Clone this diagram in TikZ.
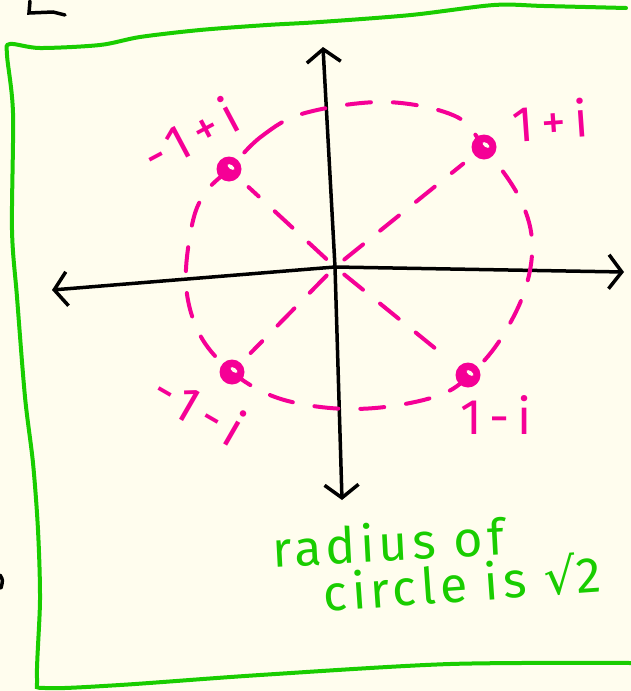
\documentclass[tikz,border=0pt]{standalone}
\usepackage{fontspec}
\setmainfont{Fira Sans}
\newfontfamily\notefont[LetterSpace=9]{Fira Sans}
\newfontfamily\labfont[LetterSpace=16]{Fira Sans}
\newfontfamily\rootfont{DejaVu Sans}
\usepackage{tikz}
\usetikzlibrary{arrows.meta}
\definecolor{paper}{RGB}{255,253,238}
\definecolor{pinkpen}{RGB}{245,0,150}
\definecolor{greenpen}{RGB}{25,205,0}

\begin{document}
\begin{tikzpicture}[x=1pt,y=-1pt,
  ax/.style={line width=3.5pt,line cap=round,{Straight Barb[length=13pt,width=34pt]}-{Straight Barb[length=13pt,width=34pt]}},
  pk/.style={draw=pinkpen,line width=4pt,dash pattern=on 24pt off 22pt,line cap=round},
  pt/.style={circle,fill=pinkpen,minimum size=25pt,inner sep=0pt},
  lab/.style={text=pinkpen,inner sep=0pt,font=\labfont\fontsize{50}{54}\selectfont},
  note/.style={text=greenpen,font=\notefont\fontsize{50}{56}\selectfont}]
\fill[paper](0,0)rectangle(631,691);
\useasboundingbox(0,0)rectangle(631,691);
% green frame
\draw[greenpen,line width=4pt,line cap=round]plot[smooth,tension=0.5]coordinates{(626,8)(544,6)(494,5)(411,15)(320,22)(267,25)(200,30)(140,37)(100,45)(40,48)(10,44)(7,55)(13,113)(12,230)(17,297)(25,397)(33,463)(38,530)(40,600)(37,678)(45,688)(120,685)(260,675)(450,664)(631,663)};
\draw[line width=3.5pt,line cap=round](30,1)--(29,13)--(53,12)--(65,15);
\draw[line width=3.5pt,line cap=round](0,575)..controls(3,580)..(1,588);
% axes
\coordinate(o)at(335,267);\coordinate(xl)at(52,290);\coordinate(xr)at(624,272);
\coordinate(yt)at(323,47);\coordinate(yb)at(342,500);
\draw[ax](xl)--(o)--(xr);
\draw[ax](yt)--(o)--(yb);
% circle of radius sqrt 2
\draw[pk]plot[smooth cycle,tension=0.6]coordinates{(229,169)(262,136)(305,113)(385,102)(455,116)(484,147)(518,195)(532,240)(525,290)(500,340)(470,375)(440,395)(385,407)(330,408)(275,397)(232,372)(200,335)(186,285)(192,225)(205,193)};
% roots
\node[pt](a)at(484,147){};\node[pt](b)at(229,169){};\node[pt](c)at(232,372){};\node[pt](d)at(468,375){};
\foreach \n in {a,b,c,d}{
  \draw[pk,shorten <=12pt,shorten >=14pt](o)--(\n);
  \fill[paper]([shift={(2,-2)}]\n.center)ellipse[x radius=4,y radius=2,rotate=-35];
}
\node[lab,rotate=4](la)at(550,120){1+i};
\node[lab,rotate=28](lb)at(190,134){-1+i};
\node[lab,rotate=-30](lc)at(200,408){-1-i};
\node[lab](ld)at(496,415){1-i};
% note
\node[note,rotate=3](n1)at(388,542){radius of};
\node[note,rotate=4](n2)at(462,582){circle is {\rootfont√}2};
\end{tikzpicture}
\end{document}
